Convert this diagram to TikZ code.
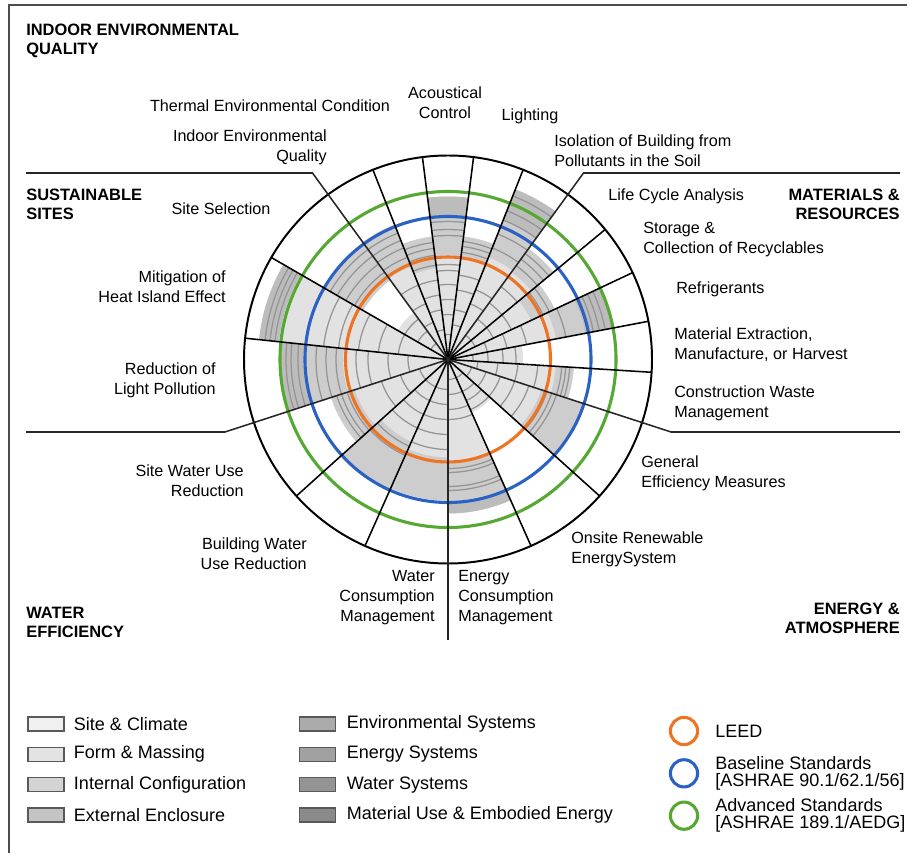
\documentclass[tikz,border=0pt]{standalone}
\usepackage{fontspec}
\setmainfont{Liberation Sans}
\usepackage{tikz}
\usetikzlibrary{positioning}

\definecolor{leedorange}{HTML}{EE7421}
\definecolor{baseblue}{HTML}{2A62C4}
\definecolor{advgreen}{HTML}{55A832}
\definecolor{shlight}{HTML}{E2E2E2}
\definecolor{shmid}{HTML}{CDCDCD}
\definecolor{shdark}{HTML}{BCBCBC}
\definecolor{arcgray}{HTML}{959595}

\newcommand{\secfill}[4]{\fill[#4] (0,0) -- (#1:#3) arc[start angle=#1, end angle=#2, radius=#3] -- cycle;}
\newcommand{\secband}[5]{\fill[#5] (#1:#3) arc[start angle=#1, end angle=#2, radius=#3] -- (#2:#4) arc[start angle=#2, end angle=#1, radius=#4] -- cycle;}

\begin{document}
\begin{tikzpicture}[x=0.025cm, y=0.025cm, node distance=0.758cm]

\tikzstyle{lbl} = [font=\fontsize{11.5}{14.2}\selectfont, inner sep=0pt]
\tikzstyle{cat} = [font=\fontsize{11.7}{13.6}\selectfont\bfseries, inner sep=0pt]
\tikzstyle{legtxt} = [font=\fontsize{12.8}{12.2}\selectfont, inner sep=0pt, align=left]
\tikzstyle{legbox} = [rectangle, draw=black!65, line width=1pt, minimum width=0.9cm, minimum height=0.35cm, inner sep=0pt]
\tikzstyle{legring} = [circle, line width=2.2pt, minimum size=0.68cm, inner sep=0pt]
\tikzstyle{ring} = [line width=2.2pt]
\tikzstyle{spoke} = [line width=1.1pt, black]
\tikzstyle{divider} = [line width=1.1pt, black!85]
\tikzstyle{arcline} = [line width=0.9pt, arcgray]

\useasboundingbox (0,0) rectangle (907,-853);
\draw[line width=1.4pt, black!70] (9,-853) -- (9,-5) -- (907,-5);

\coordinate (ctr) at (448,-359.5);
\coordinate (nw) at (312.5,-173);
\coordinate (nwend) at (26,-173);
\coordinate (ne) at (583.5,-173);
\coordinate (neend) at (900,-173);
\coordinate (sw) at (224.9,-432);
\coordinate (swend) at (26,-432);
\coordinate (se) at (671.1,-432);
\coordinate (seend) at (900,-432);
\coordinate (s) at (448,-640);

\begin{scope}[shift={(ctr)}]
% light fills
\foreach \a/\b/\r in {54/68.4/183, 68.4/82.8/124, 82.8/97.2/163, 97.2/111.6/124, 111.6/126/145, 126/150/58, 150/174/190, 174/198/167, 198/222/123, 222/246/143, 246/270/141, 270/294/154, 294/318/58, 318/342/143, 342/356.4/126, 356.4/370.8/75, 370.8/385.2/168, 385.2/399.6/118, 399.6/414/137}
  {\secfill{\a}{\b}{\r}{shlight}}
% bands
\foreach \a/\b/\ri/\ro/\c in {54/68.4/110/150/shmid, 54/68.4/150/183/shdark, 68.4/82.8/104/124/shmid, 82.8/97.2/104/143/shmid, 82.8/97.2/143/163/shdark, 97.2/111.6/92/124/shmid, 111.6/126/100/145/shmid, 126/150/98/143/shmid, 150/174/170/190/shdark, 174/198/105/143/shmid, 174/198/143/167/shdark, 198/222/98/123/shmid, 222/246/90/143/shmid, 246/270/98/141/shmid, 270/294/102/142/shmid, 270/294/142/154/shdark, 318/342/98/143/shmid, 342/356.4/108/126/shmid, 370.8/385.2/110/140/shmid, 370.8/385.2/140/168/shdark, 385.2/399.6/92/118/shmid, 399.6/414/108/137/shmid}
  {\secband{\a}{\b}{\ri}{\ro}{\c}}
% arcs
\foreach \a/\b/\rs in {54/68.4/{60,75,120,135,150,160,168,176}, 68.4/82.8/{35,50,70,85,108,114,119}, 82.8/97.2/{25,45,60,75,89,95,124,130,138}, 97.2/111.6/{30,50,65,80,95,105,112,118}, 111.6/126/{40,60,80,110,120,128,136}, 126/150/{20,35,50,108,118,128,136}, 150/174/{50,70,90,110,125,174,179,184}, 174/198/{40,60,80,92,112,122,132,150,157,162}, 198/222/{30,50,70,106,112,117}, 222/246/{30,45,60,75,95,105}, 246/270/{30,45,60,75,90}, 270/294/{20,35,50,60,109,113,127,131}, 294/318/{20,35,45,55}, 318/342/{25,40,55,70,85,104,109,114}, 342/356.4/{30,50,70,90,114,118,122}, 356.4/370.8/{25,40,55,68}, 370.8/385.2/{40,60,80,120,148,154,160}, 385.2/399.6/{30,50,70,105,112}, 399.6/414/{30,50,70,90,116,124,131}}
  {\foreach \r in \rs {\draw[arcline] (\a:\r) arc[start angle=\a, end angle=\b, radius=\r];}}
% rings
\draw[ring, leedorange] (0,0) circle[radius=102.5];
\draw[ring, baseblue] (0,0) circle[radius=143];
\draw[ring, advgreen] (0,0) circle[radius=168];
% spokes
\foreach \t in {68.4, 82.8, 97.2, 111.6, 150, 174, 222, 246, 294, 318, 356.4, 370.8, 385.2, 399.6}
  {\draw[spoke] (0,0) -- (\t:204);}
\draw[line width=1.4pt] (0,0) circle[radius=204];
\end{scope}

\draw[divider] (ctr) -- (nw) -- (nwend);
\draw[divider] (ctr) -- (ne) -- (neend);
\draw[divider] (ctr) -- (sw) -- (swend);
\draw[divider] (ctr) -- (se) -- (seend);
\draw[divider] (ctr) -- (s);

% categories
\node (ieq) [cat, anchor=west, align=left] at (26,-41) {INDOOR ENVIRONMENTAL\\QUALITY};
\node (ss) [cat, anchor=west, align=left] at (26,-204) {SUSTAINABLE\\SITES};
\node (mr) [cat, anchor=east, align=right] at (900,-204) {MATERIALS \&\\RESOURCES};
\node (we) [cat, anchor=west, align=left] at (26,-622) {WATER\\EFFICIENCY};
\node (ea) [cat, anchor=east, align=right] at (900,-618) {ENERGY \&\\ATMOSPHERE};

% sector labels
\node (thermal) [lbl] at (270,-106) {Thermal Environmental Condition};
\node (acoustic) [lbl, align=center] at (445,-103) {Acoustical\\Control};
\node (light) [lbl] at (530,-116) {Lighting};
\node (ieqlbl) [lbl, anchor=east, align=right] at (327,-147) {Indoor Environmental\\Quality};
\node (isol) [lbl, anchor=west, align=left] at (554,-151) {Isolation of Building from\\Pollutants in the Soil};
\node (site) [lbl] at (221,-209) {Site Selection};
\node (lca) [lbl, anchor=west] at (608,-196) {Life Cycle Analysis};
\node (store) [lbl, anchor=west, align=left] at (643,-240) {Storage \&\\Collection of Recyclables};
\node (heat) [lbl, anchor=east, align=right] at (226,-287) {Mitigation of\\Heat Island Effect};
\node (refrig) [lbl, anchor=west] at (676,-289) {Refrigerants};
\node (extract) [lbl, anchor=west, align=left] at (674,-345) {Material Extraction,\\Manufacture, or Harvest};
\node (lightpol) [lbl, anchor=east, align=right] at (216,-380) {Reduction of\\Light Pollution};
\node (waste) [lbl, anchor=west, align=left] at (674,-403) {Construction Waste\\Management};
\node (geneff) [lbl, anchor=west, align=left] at (641,-473) {General\\Efficiency Measures};
\node (sitewater) [lbl, anchor=east, align=right] at (244,-481) {Site Water Use\\Reduction};
\node (renew) [lbl, anchor=west, align=left] at (571,-549) {Onsite Renewable\\EnergySystem};
\node (bldwater) [lbl, anchor=east, align=right] at (307,-554) {Building Water\\Use Reduction};
\node (watercons) [lbl, anchor=east, align=right] at (435,-598) {Water\\Consumption\\Management};
\node (energycons) [lbl, anchor=west, align=left] at (458,-598) {Energy\\Consumption\\Management};

% legend
\node (bx1) [legbox, fill=black!6] at (46,-724) {};
\node (bx2) [legbox, fill=black!11, below of=bx1] {};
\node (bx3) [legbox, fill=black!17, below of=bx2] {};
\node (bx4) [legbox, fill=black!23, below of=bx3] {};
\node (bx5) [legbox, fill=black!33] at (317.5,-724) {};
\node (bx6) [legbox, fill=black!37, below of=bx5] {};
\node (bx7) [legbox, fill=black!42, below of=bx6] {};
\node (bx8) [legbox, fill=black!46, below of=bx7] {};
\node (tx1) [legtxt, right=0.225cm of bx1] {Site \& Climate};
\node (tx2) [legtxt, right=0.225cm of bx2] {Form \& Massing};
\node (tx3) [legtxt, right=0.225cm of bx3] {Internal Configuration};
\node (tx4) [legtxt, right=0.225cm of bx4] {External Enclosure};
\node (tx5) [legtxt, right=0.26cm of bx5] {Environmental Systems};
\node (tx6) [legtxt, right=0.26cm of bx6] {Energy Systems};
\node (tx7) [legtxt, right=0.26cm of bx7] {Water Systems};
\node (tx8) [legtxt, right=0.26cm of bx8] {Material Use \& Embodied Energy};

\node (leed) [legring, draw=leedorange] at (684,-731) {};
\node (base) [legring, draw=baseblue, below of=leed, yshift=-0.3cm] {};
\node (adv) [legring, draw=advgreen, below of=base, yshift=-0.3cm] {};
\node (txleed) [legtxt, right=0.4cm of leed] {LEED};
\node (txbase) [legtxt, right=0.4cm of base] {Baseline Standards\\{[}ASHRAE 90.1/62.1/56{]}};
\node (txadv) [legtxt, right=0.4cm of adv] {Advanced Standards\\{[}ASHRAE 189.1/AEDG{]}};
\end{tikzpicture}
\end{document}
